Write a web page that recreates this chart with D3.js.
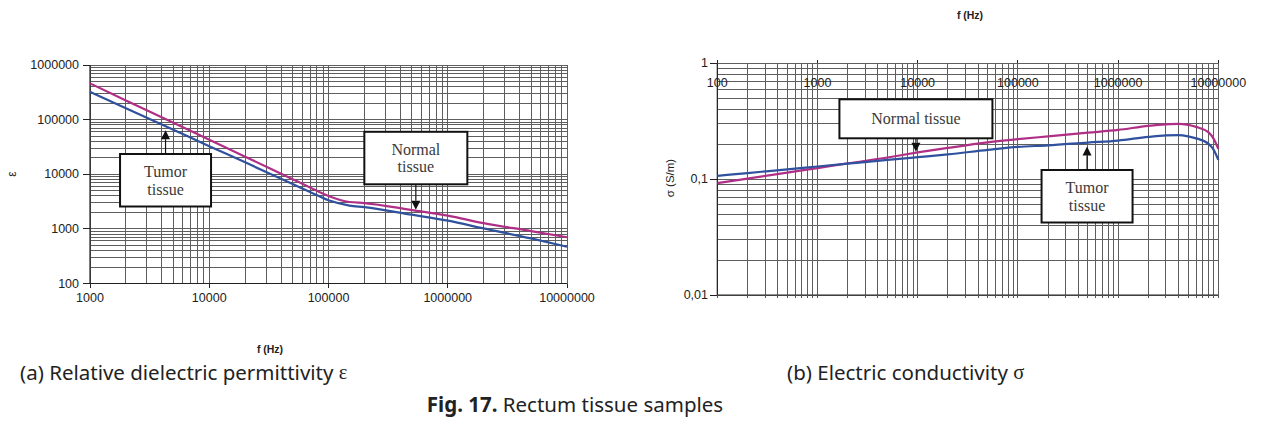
<!DOCTYPE html>
<html>
<head>
<meta charset="utf-8">
<script src="https://cdn.jsdelivr.net/npm/d3@7"></script>
<style>
  html, body { margin: 0; padding: 0; background: #ffffff; }
  svg { display: block; }
  .tick-label { font-family: "Liberation Sans", Arial, sans-serif; font-size: 12.5px; fill: #222; }
  .axis-title { font-family: "Liberation Sans", Arial, sans-serif; font-size: 10.5px; font-weight: bold; fill: #222; }
  .note { font-family: "Liberation Serif", "Times New Roman", serif; font-size: 16px; fill: #3a3a3a; }
  .caption { font-family: "Noto Sans", sans-serif; font-size: 20.5px; fill: #222; }
</style>
</head>
<body>
<svg id="fig" width="1261" height="427"></svg>
<script>
// ---- (a) relative permittivity vs frequency ----
const permFreq   = [1000, 2000, 5000, 10000, 20000, 50000, 70000, 100000, 150000, 200000, 500000, 1e6, 2e6, 5e6, 1e7];
const permNormal = [461000, 225000, 87700, 42900, 21000, 8130, 5740, 3990, 3100, 2970, 2210, 1750, 1270, 912, 703];
const permTumor  = [323000, 162000, 65200, 32700, 16500, 6610, 4730, 3330, 2670, 2500, 1820, 1415, 1020, 668, 471];
const permXTicks = [1000, 10000, 100000, 1000000, 10000000];
const permXLabels = ["1000", "10000", "100000", "1000000", "10000000"];
const permYTicks = [100, 1000, 10000, 100000, 1000000];
const permYLabels = ["100", "1000", "10000", "100000", "1000000"];

// ---- (b) conductivity vs frequency ----
const condFreq   = [100, 200, 500, 1000, 2000, 5000, 10000, 20000, 50000, 100000, 200000, 500000, 1e6, 2e6, 3e6, 4e6, 5e6, 6e6, 8e6, 9e6, 1e7];
const condNormal = [0.0924, 0.1012, 0.114, 0.1247, 0.1366, 0.1538, 0.170, 0.186, 0.2076, 0.2213, 0.2339, 0.2517, 0.266, 0.288, 0.297, 0.300, 0.294, 0.2824, 0.253, 0.2225, 0.1825];
const condTumor  = [0.1067, 0.1129, 0.1215, 0.1286, 0.136, 0.1465, 0.1548, 0.1636, 0.179, 0.190, 0.1956, 0.207, 0.2153, 0.2317, 0.2385, 0.2395, 0.234, 0.2249, 0.2016, 0.179, 0.1467];
const condXTicks = [100, 1000, 10000, 100000, 1000000, 10000000];
const condXLabels = ["100", "1000", "10000", "100000", "1000000", "10000000"];
const condYTicks = [0.01, 0.1, 1];
const condYLabels = ["0,01", "0,1", "1"];

const seriesNames = ["Normal tissue", "Tumor tissue"];
const NORMAL_COLOR = "#b02f86";
const TUMOR_COLOR = "#30519e";
const GRID_COLOR = "#5e5e5e";

const svg = d3.select("#fig");

// interpolate a series in log-log space at frequency f
function valueAt(freqs, vals, f) {
  const lf = Math.log10(f);
  for (let i = 0; i < freqs.length - 1; i++) {
    const a = Math.log10(freqs[i]), b = Math.log10(freqs[i + 1]);
    if (lf >= a && lf <= b) {
      const t = (lf - a) / (b - a);
      return Math.pow(10, Math.log10(vals[i]) * (1 - t) + Math.log10(vals[i + 1]) * t);
    }
  }
  return vals[vals.length - 1];
}

function drawGrid(g, x, y) {
  const [x0, x1] = x.range();
  const [y0, y1] = y.range();
  g.append("g").selectAll("line").data(x.ticks()).join("line")
    .attr("x1", d => x(d)).attr("x2", d => x(d))
    .attr("y1", y0).attr("y2", y1)
    .attr("stroke", GRID_COLOR).attr("stroke-width", 1)
    .attr("shape-rendering", "crispEdges");
  g.append("g").selectAll("line").data(y.ticks()).join("line")
    .attr("x1", x0).attr("x2", x1)
    .attr("y1", d => y(d)).attr("y2", d => y(d))
    .attr("stroke", GRID_COLOR).attr("stroke-width", 1)
    .attr("shape-rendering", "crispEdges");
}

function drawSeries(g, x, y, freqs, vals, color) {
  const line = d3.line()
    .x(d => x(d[0])).y(d => y(d[1]))
    .curve(d3.curveMonotoneX);
  g.append("path")
    .datum(freqs.map((f, i) => [f, vals[i]]))
    .attr("d", line)
    .attr("fill", "none")
    .attr("stroke", color)
    .attr("stroke-width", 2.2)
    .attr("stroke-linejoin", "round");
}

// callout box with an arrow pointing to (tipX, tipY)
function callout(g, tipX, tipY, boxW, boxH, boxEdgeY, dir, lines) {
  // dir = "up": box lies below the tip, arrow points up; "down": box above, arrow points down
  const bx = tipX - boxW / 2;
  const by = dir === "up" ? boxEdgeY : boxEdgeY - boxH;
  const shaftStart = boxEdgeY;
  const headLen = 9, headW = 4.5;
  const baseY = dir === "up" ? tipY + headLen : tipY - headLen;
  g.append("line")
    .attr("x1", tipX).attr("x2", tipX)
    .attr("y1", shaftStart).attr("y2", baseY)
    .attr("stroke", "#111").attr("stroke-width", 1.2);
  g.append("path")
    .attr("d", `M${tipX},${tipY}L${tipX - headW},${baseY}L${tipX + headW},${baseY}Z`)
    .attr("fill", "#111");
  g.append("rect")
    .attr("x", bx).attr("y", by).attr("width", boxW).attr("height", boxH)
    .attr("fill", "#fff").attr("stroke", "#111").attr("stroke-width", 2);
  const lh = lines.length === 1 ? 0 : 17.5;
  const cy = by + boxH / 2;
  lines.forEach((t, i) => {
    g.append("text").attr("class", "note")
      .attr("x", tipX)
      .attr("y", cy + (i - (lines.length - 1) / 2) * lh)
      .attr("text-anchor", "middle")
      .attr("dominant-baseline", "central")
      .text(t);
  });
}

// ================= chart (a) =================
{
  const g = svg.append("g");
  const x = d3.scaleLog().domain([1000, 1e7]).range([90, 567]);
  const y = d3.scaleLog().domain([100, 1e6]).range([283.5, 65]);
  drawGrid(g, x, y);

  // axes
  g.append("line").attr("x1", 90).attr("x2", 90).attr("y1", 65).attr("y2", 283.5)
    .attr("stroke", "#222").attr("stroke-width", 1.2);
  g.append("line").attr("x1", 90).attr("x2", 567).attr("y1", 283.5).attr("y2", 283.5)
    .attr("stroke", "#222").attr("stroke-width", 1.2);
  g.append("g").selectAll("line").data(permYTicks).join("line")
    .attr("x1", 83).attr("x2", 90).attr("y1", d => y(d)).attr("y2", d => y(d))
    .attr("stroke", "#222").attr("shape-rendering", "crispEdges");
  g.append("g").selectAll("line").data(permXTicks).join("line")
    .attr("x1", d => x(d)).attr("x2", d => x(d)).attr("y1", 283.5).attr("y2", 288)
    .attr("stroke", "#222").attr("shape-rendering", "crispEdges");

  g.append("g").selectAll("text").data(permYTicks).join("text")
    .attr("class", "tick-label")
    .attr("x", 79).attr("y", d => y(d))
    .attr("text-anchor", "end").attr("dominant-baseline", "central")
    .text((d, i) => permYLabels[i]);
  g.append("g").selectAll("text").data(permXTicks).join("text")
    .attr("class", "tick-label")
    .attr("x", d => x(d)).attr("y", 297.5)
    .attr("text-anchor", "middle").attr("dominant-baseline", "central")
    .text((d, i) => permXLabels[i]);

  g.append("text").attr("class", "axis-title")
    .attr("transform", "translate(12,174) rotate(-90)")
    .attr("text-anchor", "middle").attr("dominant-baseline", "central")
    .style("font-weight", "normal").style("font-size", "12px")
    .text("ε");
  g.append("text").attr("class", "axis-title")
    .attr("x", 270).attr("y", 349)
    .attr("text-anchor", "middle").attr("dominant-baseline", "central")
    .text("f (Hz)");

  drawSeries(g, x, y, permFreq, permNormal, NORMAL_COLOR);
  drawSeries(g, x, y, permFreq, permTumor, TUMOR_COLOR);

  const fT = 4300, fN = 540000;
  callout(g, x(fT), y(valueAt(permFreq, permTumor, fT)) + 4, 91, 52.5, 154, "up", ["Tumor", "tissue"]);
  callout(g, x(fN), y(valueAt(permFreq, permNormal, fN)) - 1, 103, 52.5, 184.3, "down", ["Normal", "tissue"]);
}

// ================= chart (b) =================
{
  const g = svg.append("g");
  const x = d3.scaleLog().domain([100, 1e7]).range([717.3, 1218.3]);
  const y = d3.scaleLog().domain([0.01, 1]).range([295, 63.3]);
  drawGrid(g, x, y);

  g.append("line").attr("x1", 717.3).attr("x2", 717.3).attr("y1", 63.3).attr("y2", 295)
    .attr("stroke", "#222").attr("stroke-width", 1.2);
  g.append("line").attr("x1", 717.3).attr("x2", 1218.3).attr("y1", 295).attr("y2", 295)
    .attr("stroke", "#222").attr("stroke-width", 1.2);
  g.append("g").selectAll("line").data(condYTicks).join("line")
    .attr("x1", 710).attr("x2", 717.3).attr("y1", d => y(d)).attr("y2", d => y(d))
    .attr("stroke", "#222").attr("shape-rendering", "crispEdges");
  // small ticks under the bottom edge
  g.append("g").selectAll("line").data(x.ticks()).join("line")
    .attr("x1", d => x(d)).attr("x2", d => x(d)).attr("y1", 295).attr("y2", 298)
    .attr("stroke", "#555").attr("shape-rendering", "crispEdges");
  // major ticks above the top edge
  g.append("g").selectAll("line").data(condXTicks).join("line")
    .attr("x1", d => x(d)).attr("x2", d => x(d)).attr("y1", 60).attr("y2", 63.3)
    .attr("stroke", "#222").attr("shape-rendering", "crispEdges");

  g.append("g").selectAll("text").data(condYTicks).join("text")
    .attr("class", "tick-label")
    .attr("x", 708).attr("y", d => y(d))
    .attr("text-anchor", "end").attr("dominant-baseline", "central")
    .text((d, i) => condYLabels[i]);
  g.append("g").selectAll("text").data(condXTicks).join("text")
    .attr("class", "tick-label")
    .attr("x", d => x(d)).attr("y", 83)
    .attr("text-anchor", "middle").attr("dominant-baseline", "central")
    .text((d, i) => condXLabels[i]);

  g.append("text").attr("class", "axis-title")
    .attr("transform", "translate(670,178) rotate(-90)")
    .attr("text-anchor", "middle").attr("dominant-baseline", "central")
    .style("font-weight", "normal").style("font-size", "11.5px")
    .text("σ (S/m)");
  g.append("text").attr("class", "axis-title")
    .attr("x", 970).attr("y", 15)
    .attr("text-anchor", "middle").attr("dominant-baseline", "central")
    .text("f (Hz)");

  drawSeries(g, x, y, condFreq, condNormal, NORMAL_COLOR);
  drawSeries(g, x, y, condFreq, condTumor, TUMOR_COLOR);

  const fN = 9600, fT = 490000;
  callout(g, x(fN), y(valueAt(condFreq, condNormal, fN)) - 1, 153, 39, 138.3, "down", [seriesNames[0]]);
  callout(g, x(fT), y(valueAt(condFreq, condTumor, fT)) + 4, 91, 52.5, 170, "up", ["Tumor", "tissue"]);
}

// ================= captions =================
const capA = svg.append("text").attr("class", "caption").attr("x", 20).attr("y", 372)
  .attr("dominant-baseline", "central");
capA.append("tspan").text("(a) Relative dielectric permittivity ");
capA.append("tspan").style("font-family", "'Liberation Serif', serif").text("ε");

const capB = svg.append("text").attr("class", "caption").attr("x", 787).attr("y", 372)
  .attr("dominant-baseline", "central");
capB.append("tspan").text("(b) Electric conductivity ");
capB.append("tspan").style("font-family", "'Liberation Serif', serif").text("σ");

const fig = svg.append("text").attr("class", "caption").attr("x", 575).attr("y", 404)
  .attr("text-anchor", "middle").attr("dominant-baseline", "central");
fig.append("tspan").style("font-weight", "bold").text("Fig. 17.");
fig.append("tspan").text(" Rectum tissue samples");
</script>
</body>
</html>
